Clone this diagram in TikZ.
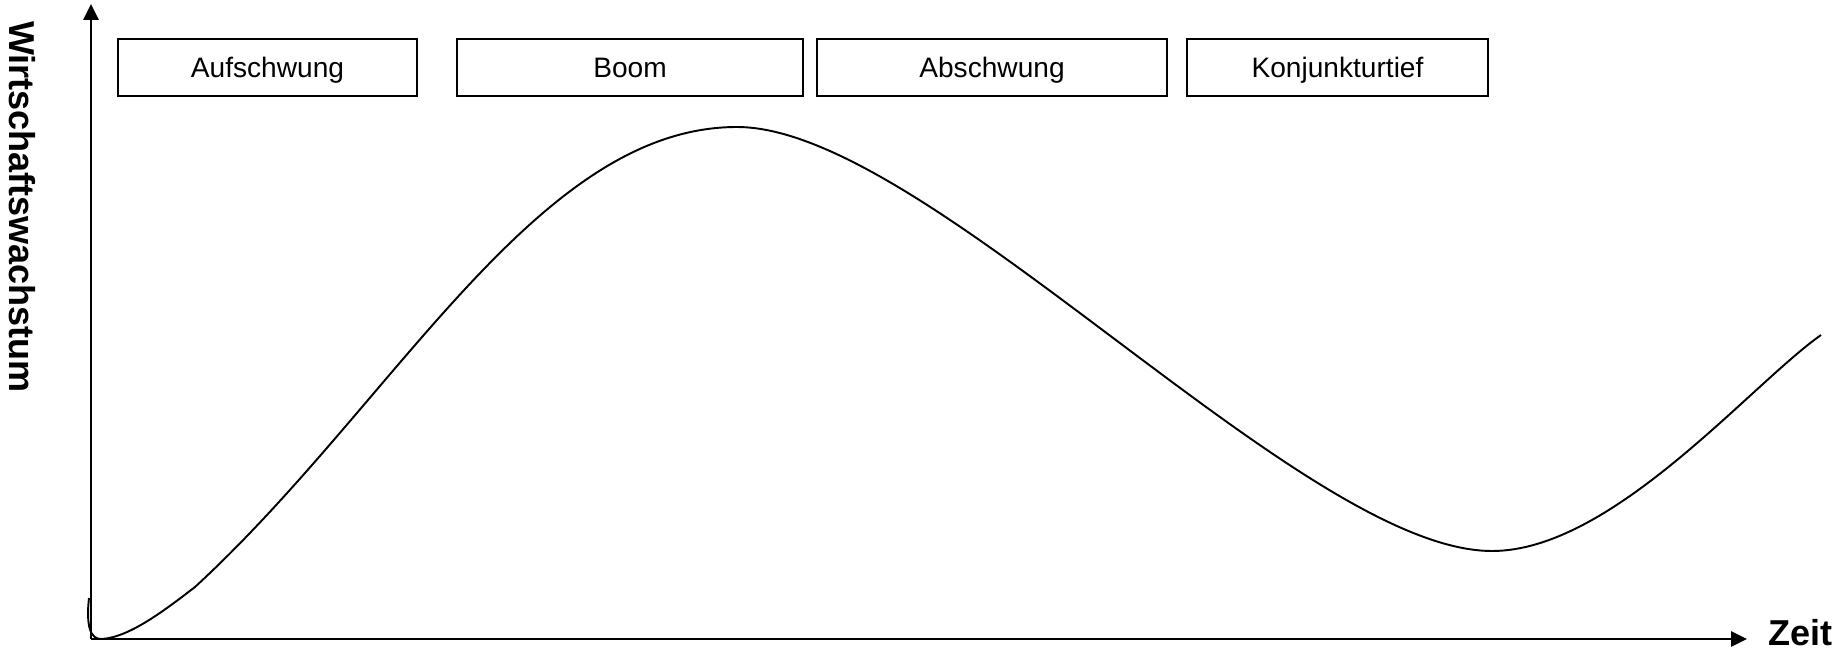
\documentclass[tikz,border=0pt]{standalone}
\usepackage{fontspec}
\setmainfont{Liberation Sans}
\usepackage{tikz}
\usetikzlibrary{arrows.meta, positioning}

\begin{document}
\begin{tikzpicture}[x=0.02cm, y=-0.02cm,
    phase/.style={draw, line width=1.1pt, minimum height=1.14cm, inner sep=0pt,
      text height=11.5pt, text depth=0pt,
      font=\fontsize{16pt}{19pt}\selectfont},
    axislabel/.style={font=\fontsize{20.5pt}{24pt}\selectfont\bfseries, inner sep=0pt}]
        \useasboundingbox (0,0) rectangle (1845,658);
        % Axes
        \coordinate (origin) at (91,639);
        \coordinate (ytop) at (91,4);
        \coordinate (xend) at (1747,639);
        \draw[-{Triangle[length=9pt, width=8.5pt]}, line width=1.6pt] (origin) -- (ytop);
        \draw[-{Triangle[length=9pt, width=8.5pt]}, line width=1.6pt] (origin) -- (xend);
        \node[axislabel, rotate=-90] (growth) at (22,207) {Wirtschaftswachstum};
        \node[axislabel, anchor=base west] (time) at (1768,645) {Zeit};
        % Phase boxes
        \node[phase, minimum width=5.98cm] (upswing) at (267.5,67.5) {Aufschwung};
        \node[phase, minimum width=6.92cm] (boom) at (630,67.5) {Boom};
        \node[phase, minimum width=7.00cm] (downswing) at (992,67.5) {Abschwung};
        \node[phase, minimum width=6.02cm] (trough) at (1337.5,67.5) {Konjunkturtief};
        % Business cycle
        \draw[line width=1.1pt] (89,598) .. controls (86,625) and (90,640) .. (102,639)
          .. controls (130,637) and (165,610) .. (195,587)
          .. controls (395,403) and (537,127) .. (737,127)
          .. controls (927,127) and (1302,551) .. (1492,551)
          .. controls (1612,551) and (1750,385) .. (1821,335);
      \end{tikzpicture}
\end{document}
